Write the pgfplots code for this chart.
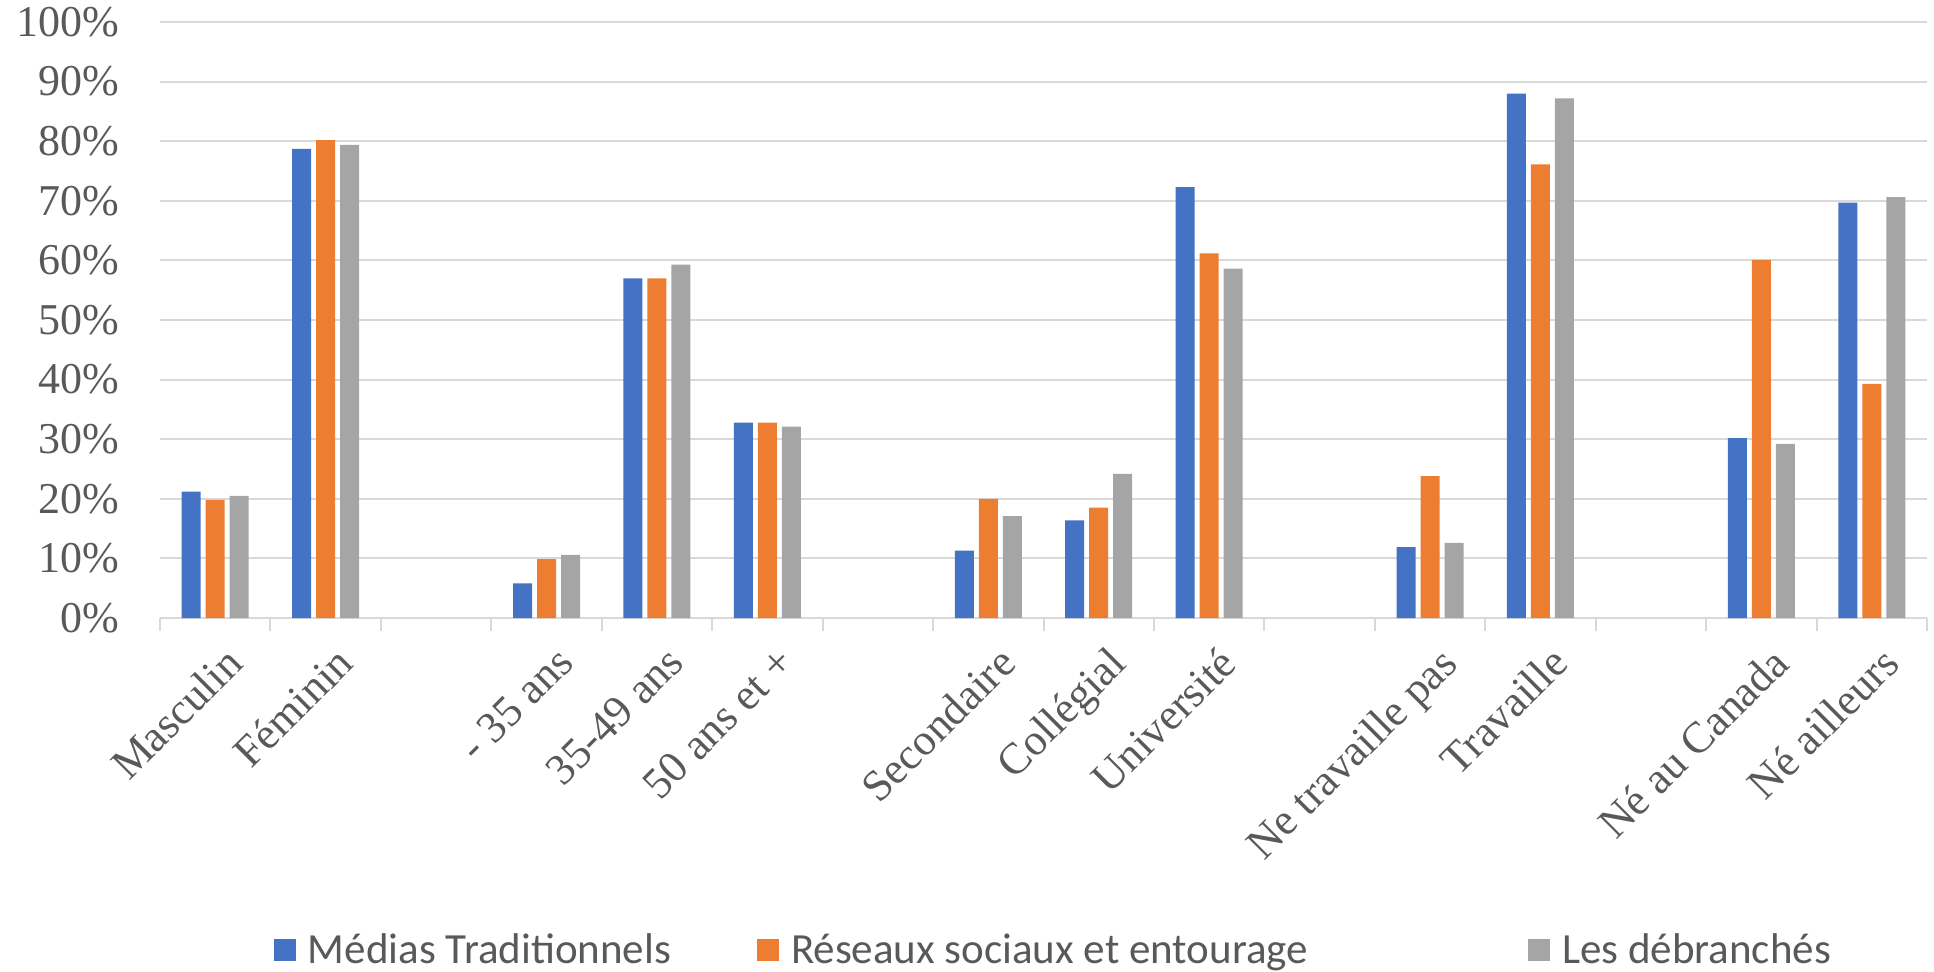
\documentclass[border=0pt]{standalone}
\usepackage{pgfplots}
\pgfplotsset{compat=1.18}
\usepackage{pgfplotstable}
\usepackage{fontspec}
\setmainfont{Liberation Serif}
\newfontfamily\legendfont{Carlito}

\definecolor{cblue}{HTML}{4472C4}
\definecolor{corange}{HTML}{ED7D31}
\definecolor{cgray}{HTML}{A5A5A5}
\definecolor{gridgray}{HTML}{D9D9D9}
\definecolor{textgray}{HTML}{595959}

% valeurs en %, x = position de la categorie (2, 6, 10, 13 vides)
\pgfplotstableread{
x  med  res  deb
0  21.2 19.8 20.5
1  78.7 80.2 79.4
3  5.8  9.9  10.6
4  57.0 57.0 59.3
5  32.8 32.8 32.1
7  11.3 20.0 17.1
8  16.4 18.5 24.2
9  72.3 61.2 58.6
11 11.9 23.8 12.6
12 88.0 76.1 87.2
14 30.2 60.1 29.2
15 69.7 39.3 70.6
}\data

\begin{document}
\begin{tikzpicture}
\begin{axis}[
    name=ax,
    scale only axis,
    width=883.5bp, height=298bp,
    xmin=-0.5, xmax=15.5,
    ymin=0, ymax=100,
    ybar=2.5bp, bar width=9.5bp,
    axis x line=bottom, axis y line=left,
    x axis line style={-, draw=gridgray, line width=1.2bp},
    y axis line style={draw=none},
    ymajorgrids,
    major grid style={draw=gridgray, line width=1bp},
    ytick={0,10,...,100},
    yticklabels={0\%,10\%,20\%,30\%,40\%,50\%,60\%,70\%,80\%,90\%,100\%},
    xtick={0,...,15},
    xticklabels={Masculin,Féminin,{},- 35 ans,35-49 ans,50 ans et +,{},Secondaire,Collégial,Université,{},Ne travaille pas,Travaille,{},Né au Canada,Né ailleurs},
    minor xtick={-0.5,0.5,...,15.5},
    major tick length=0pt,
    minor tick length=6.5bp,
    tick align=outside,
    tick style={draw=gridgray, line width=1bp},
    tick label style={font=\fontsize{22bp}{26bp}\selectfont, text=textgray},
    yticklabel style={anchor=east, inner sep=0pt, xshift=-20bp},
    xticklabel style={inner sep=0pt, xshift=4bp, yshift=-13bp, rotate=45, anchor=north east},
    legend image code/.code={\fill[#1] (0bp,-5.5bp) rectangle (11bp,5.5bp);},
    legend style={
        draw=none, fill=none, inner sep=0pt, outer sep=0pt,
        at={(axis description cs:0,0)}, anchor=west,
        xshift=57bp, yshift=-166bp,
        font=\legendfont\fontsize{21.5bp}{25bp}\selectfont, text=textgray,
        legend columns=-1,
        nodes={inner sep=0pt},
        /tikz/every odd column/.append style={column sep=6bp},
        /tikz/every even column/.append style={column sep=43bp},
    },
]
\addplot[fill=cblue, draw=none] table[x=x, y=med] {\data};
\addplot[fill=corange, draw=none] table[x=x, y=res] {\data};
\addplot[fill=cgray, draw=none] table[x=x, y=deb] {\data};
\legend{Médias Traditionnels, Réseaux sociaux et entourage\rule{67bp}{0pt}, Les débranchés}
\end{axis}
\pgfresetboundingbox
\path ([shift={(-80bp,-177bp)}]ax.south west) rectangle ([shift={(887bp,309bp)}]ax.south west);
\end{tikzpicture}
\end{document}
